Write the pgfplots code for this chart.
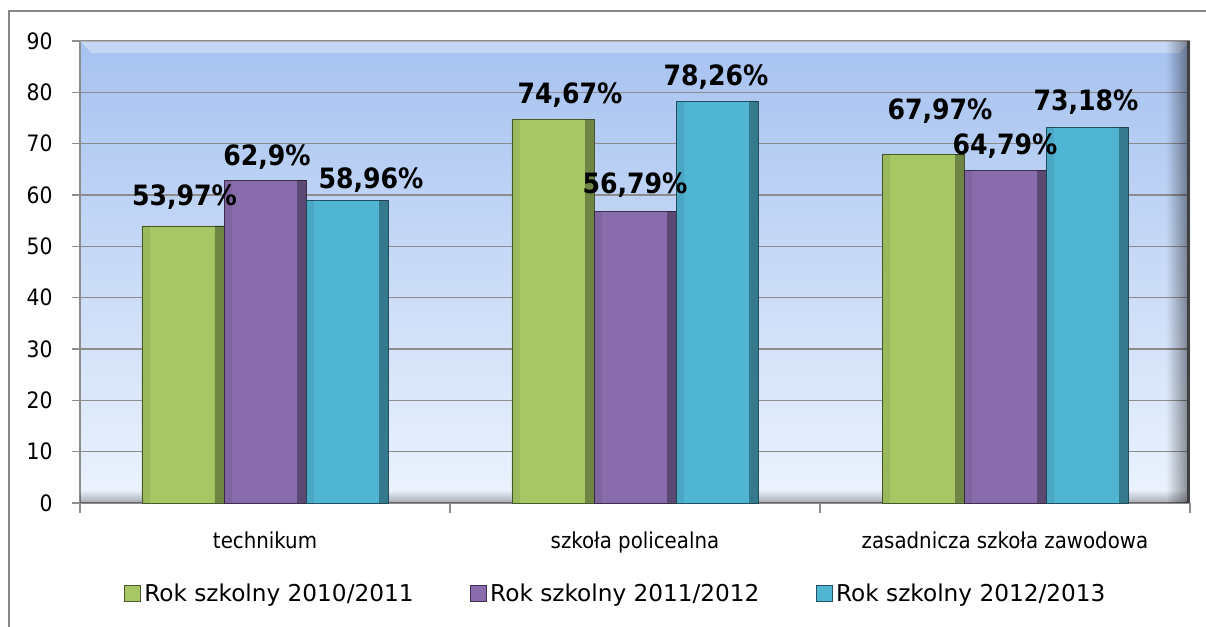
\documentclass[border=0pt]{standalone}
\usepackage{pgfplots}
\pgfplotsset{compat=1.18}
\usepackage{pgfplotstable}
\usetikzlibrary{fadings}
\usepackage{fontspec}
\setmainfont{DejaVu Sans}
\newfontfamily\cond{DejaVu Sans Condensed}
\definecolor{cgreen}{RGB}{166,199,100}
\definecolor{cpurple}{RGB}{137,108,172}
\definecolor{ccyan}{RGB}{80,181,211}
\definecolor{gridc}{RGB}{140,140,140}
\definecolor{walltop}{RGB}{166,194,240}
\definecolor{wallbot}{RGB}{236,243,253}
\definecolor{framec}{RGB}{134,134,134}

\pgfplotstableread{
x y dx dy
0 53.97 1.5 20
1 74.67 17 16
2 67.97 17 35
}\tabA
\pgfplotstableread{
x y dx dy
0 62.9 2 15
1 56.79 0 18
2 64.79 0 16
}\tabB
\pgfplotstableread{
x y dx dy
0 58.96 24 12
1 78.26 -1 16
2 73.18 -1 17
}\tabC

\pgfplotsset{
  lbl/.style={
    visualization depends on={\thisrow{dx}\as\labdx},
    visualization depends on={\thisrow{dy}\as\labdy},
    nodes near coords={\pgfmathprintnumber[fixed,precision=2,use comma,assume math mode=true]{\pgfplotspointmeta}\%},
    nodes near coords style={anchor=base, inner sep=0pt, xshift=\labdx pt, yshift=\labdy pt, font=\cond\fontsize{28}{32}\selectfont\bfseries, text=black},
  },
  shadeR/.style={forget plot, fill=black, fill opacity=0.33, draw=none, bar width=9pt},
  shadeL/.style={forget plot, fill=black, fill opacity=0.07, draw=none, bar width=8pt},
}

\begin{document}
\begin{tikzpicture}
\useasboundingbox (-80pt,-123pt) rectangle (1126pt,503pt);
\draw[framec, line width=1.6pt] (-71pt,-160pt) -- (-71pt,492pt) -- (1160pt,492pt);
\begin{axis}[
  scale only axis, width=1110pt, height=462pt,
  xmin=-0.5, xmax=2.5, ymin=0, ymax=90,
  enlargelimits=false, clip=false,
  ybar, bar width=82pt,
  axis background/.style={top color=walltop, bottom color=wallbot},
  axis lines*=left, axis line style={-, gridc, line width=1.5pt},
  ytick={0,10,...,90},
  ymajorgrids, grid style={gridc, line width=1.5pt},
  tick align=outside, major tick length=8pt,
  every tick/.style={gridc, line width=1.5pt},
  xtick={0,1,2}, xticklabels={technikum, szkoła policealna, zasadnicza szkoła zawodowa},
  major x tick style={draw=none},
  extra x ticks={-0.5,0.5,1.5,2.5}, extra x tick labels={},
  extra x tick style={major x tick style={draw=gridc, line width=1.5pt}, major tick length=10pt, grid=none},
  yticklabel style={font=\cond\fontsize{22.6}{26}\selectfont, xshift=-16pt},
  xticklabel style={font=\cond\fontsize{22}{26}\selectfont, yshift=-17pt},
  /pgf/number format/assume math mode=true,
  legend columns=3,
  legend style={draw=none, fill=none, at={(0.4825,-0.195)}, anchor=center,
    font=\fontsize{23.2}{27}\selectfont,
    /tikz/every odd column/.append style={column sep=2pt},
    /tikz/every even column/.append style={column sep=54pt}},
  legend image code/.code={\fill[#1] (0pt,-8pt) rectangle (16pt,8pt);},
]
% wall bevel decorations
\fill[white, opacity=0.35] (rel axis cs:0,1) -- (rel axis cs:1,1) -- ([shift={(-10pt,-12pt)}]rel axis cs:1,1) -- ([shift={(12pt,-12pt)}]rel axis cs:0,1) -- cycle;
\fill[black, opacity=0.45, path fading=west] ([xshift=-24pt]rel axis cs:1,0) rectangle (rel axis cs:1,1);
\fill[black, opacity=0.30, path fading=north] (rel axis cs:0,0) rectangle ([yshift=13pt]rel axis cs:1,0);
\draw[black!75, line width=3pt] ([xshift=-1.5pt]rel axis cs:1,0) -- ([xshift=-1.5pt]rel axis cs:1,1);
\addplot[fill=cgreen, draw=cgreen!45!black, line width=0.6pt, bar shift=-82pt, lbl] table[x=x,y=y] {\tabA};
\addplot[fill=cpurple, draw=cpurple!45!black, line width=0.6pt, bar shift=0pt, lbl] table[x=x,y=y] {\tabB};
\addplot[fill=ccyan, draw=ccyan!45!black, line width=0.6pt, bar shift=82pt, lbl] table[x=x,y=y] {\tabC};
\addplot[shadeR, bar shift=-45.5pt] table[x=x,y=y] {\tabA};
\addplot[shadeR, bar shift=36.5pt] table[x=x,y=y] {\tabB};
\addplot[shadeR, bar shift=118.5pt] table[x=x,y=y] {\tabC};
\addplot[shadeL, bar shift=-119pt] table[x=x,y=y] {\tabA};
\addplot[shadeL, bar shift=-37pt] table[x=x,y=y] {\tabB};
\addplot[shadeL, bar shift=45pt] table[x=x,y=y] {\tabC};
\legend{Rok szkolny 2010/2011, Rok szkolny 2011/2012, Rok szkolny 2012/2013}
\end{axis}
\end{tikzpicture}
\end{document}
